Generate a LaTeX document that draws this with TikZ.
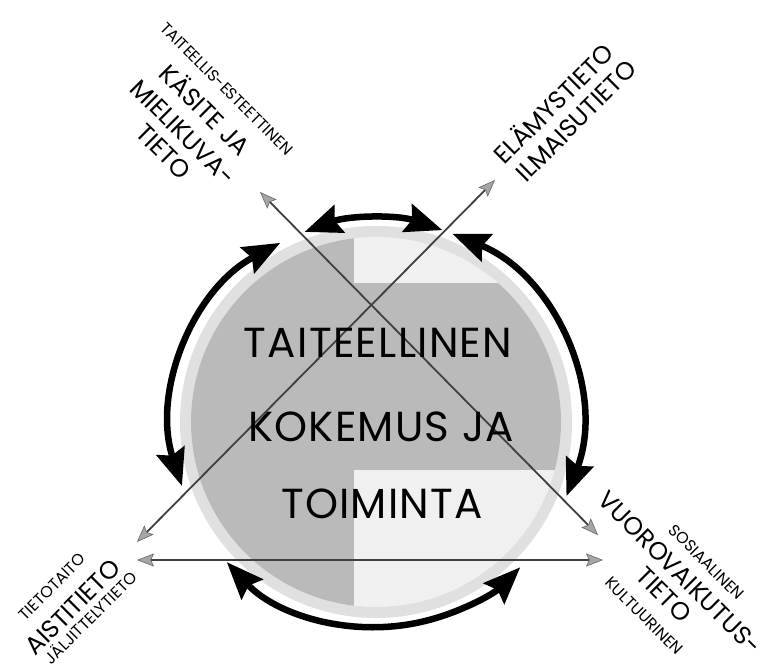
\documentclass[tikz,border=0pt]{standalone}
\usepackage{fontspec}
\setmainfont{Poppins}
\newfontfamily\widefont[LetterSpace=3]{Poppins}
\usetikzlibrary{arrows.meta,calc}
\tikzset{
  bigarrow/.style={line width=6.5pt, draw=black,
    arrows={Stealth[length=37pt,width=29pt,inset=5pt]-Stealth[length=37pt,width=29pt,inset=5pt]}},
  thinarrow/.style={line width=1.8pt, draw=black!75,
    arrows={Stealth[length=17pt,width=13pt,inset=3pt,fill=black!35,color=black!60,line width=0.6pt]-Stealth[length=17pt,width=13pt,inset=3pt,fill=black!35,color=black!60,line width=0.6pt]}},
  bigtxt/.style={font=\fontsize{25}{25}\selectfont, inner sep=0pt, text height=17.5pt, text depth=0pt},
  smalltxt/.style={font=\fontsize{16}{16}\selectfont, inner sep=0pt, text height=11.2pt, text depth=0pt},
  centertxt/.style={font=\widefont\fontsize{42}{42}\selectfont, inner sep=0pt, text height=29.4pt, text depth=0pt},
  lightring/.style={fill=black!12},
  lightfill/.style={fill=black!6},
  midfill/.style={fill=black!27}
}
\begin{document}
\begin{tikzpicture}[x=1pt,y=-1pt]
\useasboundingbox (0,0) rectangle (762,669);
\fill[white] (0,0) rectangle (762,669);

% disc
\coordinate (C) at (376,422);
\fill[lightring] (C) circle[radius=196pt];
\begin{scope}
  \clip (C) circle[radius=185pt];
  \fill[lightfill] (150,200) rectangle (620,650);
  \fill[midfill] (150,200) rectangle (354,650);
  \fill[midfill] (354,283) rectangle (620,470);
\end{scope}

% thin arrows
\coordinate (l1a) at (260,192);
\coordinate (l1b) at (598,535);
\coordinate (l2a) at (137,542);
\coordinate (l2b) at (495,180);
\coordinate (l3a) at (137,560);
\coordinate (l3b) at (603,560);
\draw[thinarrow] (l1a) -- (l1b);
\draw[thinarrow] (l2a) -- (l2b);
\draw[thinarrow] (l3a) -- (l3b);

% center text
\node[centertxt] (c1) at (378,343) {TAITEELLINEN};
\node[centertxt] (c2) at (381,427) {KOKEMUS JA};
\node[centertxt] (c3) at (382,504) {TOIMINTA};

% curved arrows
\coordinate (A) at (376,423);
\draw[bigarrow] ([shift={(110.5:204pt)}]A) arc[start angle=110.5, end angle=71, radius=204pt];
\draw[bigarrow] ([shift={(68:204pt)}]A) arc[start angle=68, end angle=-21, radius=204pt];
\draw[bigarrow] ([shift={(-137:204pt)}]A) arc[start angle=-137, end angle=-45, radius=204pt];
\draw[bigarrow] ([shift={(118:204pt)}]A) arc[start angle=118, end angle=198, radius=204pt];

% upper-left
\node[smalltxt, rotate=-45] (ul1) at (226.7,88.7) {TAITEELLIS-ESTEETTINEN};
\node[bigtxt, rotate=-45] (ul2) at (205.0,110.3) {KÄSITE JA};
\node[bigtxt, rotate=-45] (ul3) at (183.1,132.2) {MIELIKUVA-};
\node[bigtxt, rotate=-45] (ul4) at (163.7,151.7) {TIETO};

% upper-right
\node[bigtxt, rotate=45] (ur1) at (554,104) {ELÄMYSTIETO};
\node[bigtxt, rotate=45] (ur2) at (576,121) {ILMAISUTIETO};

% lower-left
\node[smalltxt, rotate=45] (ll1) at (52.2,586.7) {TIETOTAITO};
\node[bigtxt, rotate=45] (ll2) at (72.7,607.2) {AISTITIETO};
\node[smalltxt, rotate=45] (ll3) at (91,618) {JÄLJITTELYTIETO};

% lower-right
\node[smalltxt, rotate=-45] (lr1) at (706.3,562.1) {SOSIAALINEN};
\node[bigtxt, rotate=-45] (lr2) at (680.1,572.7) {VUOROVAIKUTUS-};
\node[bigtxt, rotate=-45] (lr3) at (663.9,594.6) {TIETO};
\node[smalltxt, rotate=-45] (lr4) at (644.1,615.8) {KULTUURINEN};
\end{tikzpicture}
\end{document}
